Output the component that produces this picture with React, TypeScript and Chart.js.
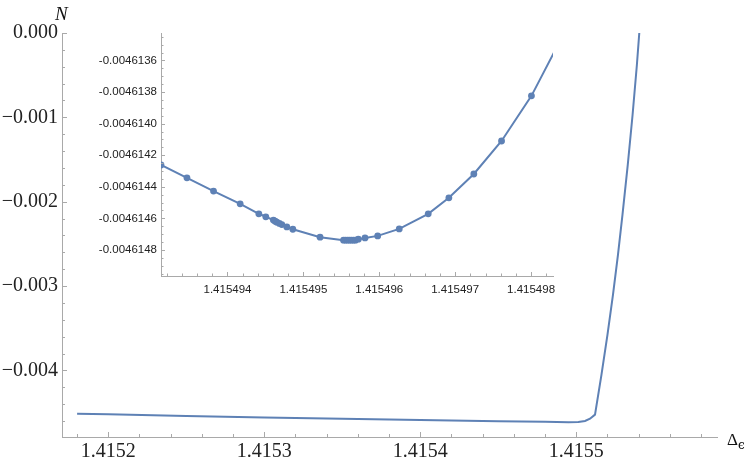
import React, { useEffect, useRef } from "react";
import { Chart, registerables } from "chart.js";

Chart.register(...registerables);

// ---------- Main curve ----------
const mainX = [
  1.41518, 1.4152, 1.41525, 1.4153, 1.41535, 1.4154, 1.41545, 1.41548, 1.415495,
  1.4155013, 1.4155056, 1.4155088, 1.415512, 1.41551615, 1.41552, 1.41552353, 1.41552673,
  1.41552962, 1.41553301, 1.41553609, 1.41553885, 1.41554038,
];
const mainY = [
  -0.004513, -0.004521, -0.00454, -0.004559, -0.004575, -0.004589, -0.004602, -0.00461, -0.0046147,
  -0.004611, -0.0046, -0.004573, -0.004525, -0.004051, -0.003577, -0.003103, -0.002628,
  -0.002154, -0.001561, -0.000969, -0.000376, 0.0,
];
const mainXRange = [1.41517032, 1.4155902];
const mainYRange = [-0.00479, 0];
const mainXTicks = [1.4152, 1.4153, 1.4154, 1.4155];
const mainXTickLabels = ["1.4152", "1.4153", "1.4154", "1.4155"];
const mainYTicks = [-0.004, -0.003, -0.002, -0.001, 0];
const mainYTickLabels = ["\u22120.004", "\u22120.003", "\u22120.002", "\u22120.001", "0.000"];
const mainXMinorStep = 0.00002;
const mainYMinorStep = 0.0002;

// ---------- Inset (zoom near minimum) ----------
const insetX = [
  1.415493124, 1.415493466, 1.415493816, 1.415494167, 1.415494413, 1.415494505, 1.415494605,
  1.415494628, 1.41549465, 1.415494684, 1.415494716, 1.415494782, 1.415494861, 1.41549522,
  1.415495529, 1.415495555, 1.415495582, 1.415495608, 1.415495634, 1.415495661, 1.415495687,
  1.415495724, 1.415495812, 1.415495979, 1.415496263, 1.415496645, 1.415496917, 1.415497246,
  1.415497611, 1.415498005, 1.41549844,
];
const insetY = [
  -0.004614262, -0.004614343, -0.004614427, -0.004614508, -0.004614571, -0.00461459, -0.004614611,
  -0.004614618, -0.004614624, -0.004614632, -0.004614639, -0.004614654, -0.004614669, -0.004614719,
  -0.004614738, -0.004614738, -0.004614738, -0.004614738, -0.004614738, -0.004614738, -0.004614738,
  -0.004614732, -0.004614724, -0.004614711, -0.004614667, -0.004614571, -0.00461447, -0.004614319,
  -0.00461411, -0.004613824, -0.004613422,
];
const insetXRange = [1.415493124, 1.415498289];
const insetYRange = [-0.004614965, -0.004613426];
const insetXTicks = [1.415494, 1.415495, 1.415496, 1.415497, 1.415498];
const insetXTickLabels = ["1.415494", "1.415495", "1.415496", "1.415497", "1.415498"];
const insetYTicks = [-0.0046148, -0.0046146, -0.0046144, -0.0046142, -0.004614, -0.0046138, -0.0046136];
const insetYTickLabels = [
  "-0.0046148", "-0.0046146", "-0.0046144", "-0.0046142", "-0.0046140", "-0.0046138", "-0.0046136",
];
const insetXMinorStep = 2e-7;
const insetYMinorStep = 5e-8;

const LINE_COLOR = "rgb(94,129,181)";
const AXIS_COLOR = "#a9a9a9";
const LABEL_COLOR = "#222222";
const W = 747;
const H = 468;

function minorValues(min: number, max: number, step: number) {
  const out: number[] = [];
  const k0 = Math.ceil(min / step - 1e-6);
  const k1 = Math.floor(max / step + 1e-6);
  for (let k = k0; k <= k1; k++) out.push(k * step);
  return out;
}

function tickPlugin(
  id: string,
  xMajor: number[],
  yMajor: number[],
  xStep: number,
  yStep: number,
  majorLen: number,
  minorLen: number,
  extra?: (chart: any) => void
) {
  return {
    id,
    afterDatasetsDraw(chart: any) {
      const { ctx, chartArea, scales } = chart;
      const xs = scales.x;
      const ys = scales.y;
      ctx.save();
      ctx.strokeStyle = AXIS_COLOR;
      ctx.lineWidth = 1;
      ctx.beginPath();
      const bottom = chartArea.bottom;
      const left = chartArea.left;
      minorValues(xs.min, xs.max, xStep).forEach((v) => {
        const px = Math.round(xs.getPixelForValue(v)) + 0.5;
        if (px < left + 1) return;
        ctx.moveTo(px, bottom);
        ctx.lineTo(px, bottom - minorLen);
      });
      xMajor.forEach((v) => {
        const px = Math.round(xs.getPixelForValue(v)) + 0.5;
        ctx.moveTo(px, bottom);
        ctx.lineTo(px, bottom - majorLen);
      });
      minorValues(ys.min, ys.max, yStep).forEach((v) => {
        const py = Math.round(ys.getPixelForValue(v)) + 0.5;
        if (py > bottom - 1) return;
        ctx.moveTo(left, py);
        ctx.lineTo(left + minorLen, py);
      });
      yMajor.forEach((v) => {
        const py = Math.round(ys.getPixelForValue(v)) + 0.5;
        ctx.moveTo(left, py);
        ctx.lineTo(left + majorLen, py);
      });
      ctx.stroke();
      ctx.restore();
      if (extra) extra(chart);
    },
  };
}

function makeScales(
  xRange: number[],
  yRange: number[],
  xTicks: number[],
  xLabels: string[],
  yTicks: number[],
  yLabels: string[],
  font: any,
  yWidth: number,
  xHeight: number,
  xPad: number,
  yPad: number
) {
  return {
    x: {
      type: "linear" as const,
      position: "bottom" as const,
      min: xRange[0],
      max: xRange[1],
      bounds: "data" as const,
      grid: { display: false, drawTicks: false },
      border: { display: true, color: AXIS_COLOR, width: 1 },
      ticks: {
        autoSkip: false,
        maxRotation: 0,
        minRotation: 0,
        padding: xPad,
        color: LABEL_COLOR,
        font,
        callback: (_v: any, i: number) => xLabels[i],
      },
      afterBuildTicks: (s: any) => {
        s.ticks = xTicks.map((v) => ({ value: v }));
      },
      afterFit: (s: any) => {
        s.height = xHeight;
      },
    },
    y: {
      type: "linear" as const,
      position: "left" as const,
      min: yRange[0],
      max: yRange[1],
      bounds: "data" as const,
      grid: { display: false, drawTicks: false },
      border: { display: true, color: AXIS_COLOR, width: 1 },
      ticks: {
        autoSkip: false,
        padding: yPad,
        color: LABEL_COLOR,
        font,
        callback: (_v: any, i: number) => yLabels[i],
      },
      afterBuildTicks: (s: any) => {
        s.ticks = yTicks.map((v) => ({ value: v }));
      },
      afterFit: (s: any) => {
        s.width = yWidth;
      },
    },
  };
}

export default function App() {
  const mainRef = useRef<HTMLCanvasElement | null>(null);
  const insetRef = useRef<HTMLCanvasElement | null>(null);

  useEffect(() => {
    document.body.style.margin = "0";
    const serif = { family: "'Liberation Serif', 'Times New Roman', serif", size: 20 };
    const sans = { family: "'Liberation Sans', Arial, sans-serif", size: 11.5 };

    const axisTitles = (chart: any) => {
      const { ctx } = chart;
      ctx.save();
      ctx.fillStyle = "#111";
      ctx.textBaseline = "alphabetic";
      ctx.textAlign = "left";
      ctx.font = "italic 19px 'Liberation Serif', serif";
      ctx.fillText("N", 55, 20);
      ctx.font = "17px 'Liberation Serif', serif";
      ctx.fillText("\u0394", 727, 445);
      ctx.font = "12px 'DejaVu Serif', serif";
      ctx.fillText("\u03F5", 738, 449);
      ctx.restore();
    };

    const main = new Chart(mainRef.current as HTMLCanvasElement, {
      type: "line",
      data: {
        datasets: [
          {
            data: mainX.map((x, i) => ({ x, y: mainY[i] })),
            borderColor: LINE_COLOR,
            borderWidth: 2,
            pointRadius: 0,
            tension: 0,
            fill: false,
          },
        ],
      },
      options: {
        responsive: false,
        animation: false,
        events: [],
        layout: { padding: { top: 33, right: 30, bottom: 0, left: 0 } },
        plugins: { legend: { display: false }, tooltip: { enabled: false } },
        scales: makeScales(
          mainXRange, mainYRange, mainXTicks, mainXTickLabels, mainYTicks, mainYTickLabels,
          serif, 62, 31, 3, 4
        ) as any,
      },
      plugins: [tickPlugin("mainTicks", mainXTicks, mainYTicks, mainXMinorStep, mainYMinorStep, 5, 3, axisTitles)],
    });

    const inset = new Chart(insetRef.current as HTMLCanvasElement, {
      type: "line",
      data: {
        datasets: [
          {
            data: insetX.map((x, i) => ({ x, y: insetY[i] })),
            borderColor: LINE_COLOR,
            borderWidth: 2,
            pointRadius: 3.4,
            pointBackgroundColor: LINE_COLOR,
            pointBorderWidth: 0,
            tension: 0,
            fill: false,
            clip: 0,
          } as any,
        ],
      },
      options: {
        responsive: false,
        animation: false,
        events: [],
        layout: { padding: { top: 33, right: 194, bottom: 0, left: 0 } },
        plugins: { legend: { display: false }, tooltip: { enabled: false } },
        scales: makeScales(
          insetXRange, insetYRange, insetXTicks, insetXTickLabels, insetYTicks, insetYTickLabels,
          sans, 161, 192, 7, 4
        ) as any,
      },
      plugins: [tickPlugin("insetTicks", insetXTicks, insetYTicks, insetXMinorStep, insetYMinorStep, 4, 2.5)],
    });

    return () => {
      main.destroy();
      inset.destroy();
    };
  }, []);

  return (
    <div style={{ position: "absolute", left: 0, top: 0, width: W, height: H, background: "#fff" }}>
      <canvas ref={mainRef} width={W} height={H} style={{ position: "absolute", left: 0, top: 0 }} />
      <canvas ref={insetRef} width={W} height={H} style={{ position: "absolute", left: 0, top: 0 }} />
    </div>
  );
}
